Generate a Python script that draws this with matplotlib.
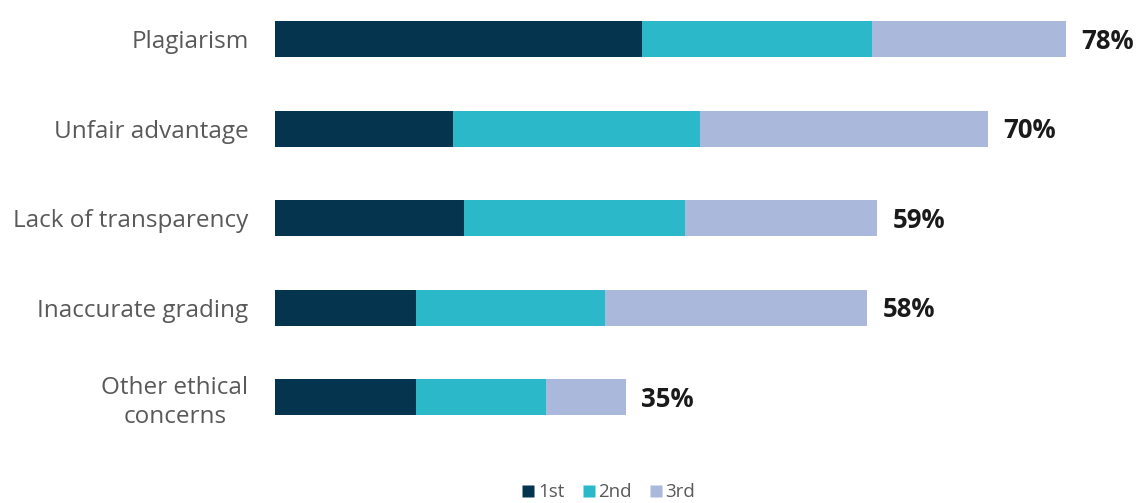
import matplotlib
matplotlib.use("Agg")
import matplotlib.pyplot as plt
from matplotlib.lines import Line2D

categories = ["Plagiarism", "Unfair advantage", "Lack of transparency",
              "Inaccurate grading", "Other ethical\nconcerns"]
first = [36.2, 17.6, 18.6, 13.9, 13.9]
second = [22.7, 24.3, 21.8, 18.6, 12.8]
third = [19.1, 28.4, 19.0, 25.9, 7.9]
totals_labels = ["78%", "70%", "59%", "58%", "35%"]
series_names = ["1st", "2nd", "3rd"]
colors = ["#05344f", "#2bb8c8", "#aab9db"]

plt.rcParams['font.family'] = ['Open Sans', 'DejaVu Sans']

fig = plt.figure(figsize=(11.44, 5.03), dpi=100)
ax = fig.add_axes([275/1144, 1 - 460/503, 1 - 275/1144, 460/503])

ypos = list(range(len(categories)))
left = [0]*len(categories)
for vals, col in zip([first, second, third], colors):
    ax.barh(ypos, vals, left=left, height=0.4, color=col, edgecolor='none')
    left = [l + v for l, v in zip(left, vals)]

for y, tot, lab in zip(ypos, left, totals_labels):
    ax.annotate(lab, xy=(tot, y), xytext=(11, -1.5), textcoords='offset points',
                ha='left', va='center', fontsize=18.5, fontweight='bold', color='#1a1a1a')

ax.set_xlim(0, 85.7)
ax.set_ylim(4.70, -0.436)
ax.set_yticks(ypos)
ax.set_yticklabels(categories, fontsize=17.5, color='#595959', multialignment='center',
                   linespacing=1.25)
ax.tick_params(axis='y', length=0, pad=19)
ax.tick_params(axis='x', bottom=False, labelbottom=False)
for s in ax.spines.values():
    s.set_visible(False)

handles = [Line2D([0], [0], marker='s', linestyle='none', markersize=9,
                  markerfacecolor=c, markeredgecolor='none') for c in colors]
fig.legend(handles, series_names, loc='lower center', bbox_to_anchor=(607/1144, -0.03),
           ncol=3, frameon=False, fontsize=13.5, labelcolor='#595959',
           handletextpad=0.0, columnspacing=0.8, handlelength=1.0)

fig.savefig("out.png", dpi=100)
